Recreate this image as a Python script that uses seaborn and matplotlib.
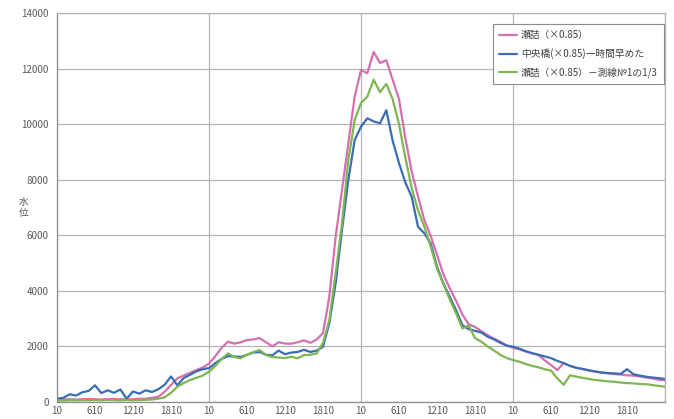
import matplotlib
matplotlib.use("Agg")
import matplotlib.pyplot as plt
from matplotlib.ticker import FixedLocator
import numpy as np
import pandas as pd
import seaborn as sns

# Hourly water-level readings over four days (0:10, 1:10, ... 23:10), plus the
# first reading of the following day at the right edge.
SETSUME = [
    # day 1
    80, 90, 100, 90, 100, 110, 100, 90, 100, 110, 100, 90,
    100, 110, 120, 150, 190, 370, 610, 850, 950, 1050, 1150, 1240,
    # day 2
    1380, 1650, 1950, 2170, 2100, 2150, 2230, 2250, 2300, 2150, 2000, 2150,
    2100, 2100, 2150, 2220, 2130, 2250, 2480, 3790, 5950, 7630, 9310, 10990,
    # day 3
    11950, 11830, 12600, 12200, 12300, 11600, 10900, 9500, 8300, 7400, 6550, 5980,
    5300, 4600, 4100, 3650, 3150, 2800, 2700, 2550, 2400, 2280, 2170, 2030,
    # day 4
    1950, 1900, 1820, 1750, 1700, 1500, 1330, 1150, 1400, 1300, 1230, 1180,
    1130, 1090, 1060, 1030, 1000, 990, 960, 950, 920, 880, 850, 800,
    # next day 0:10
    780,
]

CHUO = [
    # day 1
    120, 150, 280, 230, 350, 400, 600, 320, 420, 330, 450, 120,
    380, 300, 420, 360, 460, 620, 920, 600, 860, 980, 1100, 1180,
    # day 2
    1220, 1400, 1550, 1650, 1640, 1620, 1700, 1780, 1800, 1700, 1680, 1850,
    1720, 1780, 1800, 1880, 1800, 1850, 1990, 2840, 4280, 6190, 7990, 9430,
    # day 3
    9910, 10210, 10100, 10030, 10500, 9400, 8600, 7900, 7390, 6310, 6070, 5710,
    4870, 4270, 3790, 3310, 2770, 2620, 2560, 2500, 2350, 2250, 2130, 2030,
    # day 4
    1990, 1920, 1830, 1760, 1700, 1640, 1580, 1480, 1400, 1300, 1230, 1190,
    1140, 1100, 1060, 1040, 1030, 1010, 1180, 1000, 950, 910, 880, 860,
    # next day 0:10
    830,
]

SETSUME_LINE1 = [
    # day 1
    50, 50, 60, 60, 70, 60, 70, 60, 70, 70, 60, 70,
    60, 70, 80, 90, 120, 170, 330, 550, 680, 790, 870, 950,
    # day 2
    1090, 1300, 1550, 1750, 1620, 1570, 1700, 1800, 1870, 1690, 1620, 1600,
    1580, 1630, 1570, 1690, 1700, 1750, 2120, 2950, 4640, 6430, 8710, 10150,
    # day 3
    10760, 10990, 11600, 11150, 11450, 10900, 10000, 8800, 7700, 6900, 6310, 5600,
    4800, 4250, 3700, 3200, 2650, 2750, 2300, 2170, 2000, 1850, 1700, 1580,
    # day 4
    1510, 1450, 1370, 1300, 1250, 1180, 1130, 850, 620, 960, 910, 870,
    830, 790, 770, 740, 730, 700, 680, 670, 650, 640, 610, 580,
    # next day 0:10
    550,
]

SERIES_NAMES = [
    "瀬詰（×0.85）",
    "中央橋(×0.85)一時間早めた",
    "瀬詰（×0.85）－測線№1の1/3",
]
SERIES_COLORS = ["#d56fae", "#3a6db4", "#7db652"]

# Time-of-day labels shown under every day (hhmm without leading zeros)
DAY_TICK_LABELS = ["10", "610", "1210", "1810"]
N_DAYS = 4
STEPS_PER_DAY = 24

Y_TICKS = [0, 2000, 4000, 6000, 8000, 10000, 12000, 14000]

sns.set_theme(style="white")
plt.rcParams["font.family"] = ["Noto Sans CJK JP", "DejaVu Sans"]

step = np.arange(len(SETSUME))
frames = []
for name, values in zip(SERIES_NAMES, [SETSUME, CHUO, SETSUME_LINE1]):
    frames.append(pd.DataFrame({"step": step, "level": values, "series": name}))
df = pd.concat(frames, ignore_index=True)

fig = plt.figure(figsize=(6.74, 4.19), dpi=100)
ax = fig.add_axes([57 / 674, 1 - 402 / 419, (665 - 57) / 674, (402 - 13) / 419])

sns.lineplot(
    data=df, x="step", y="level", hue="series",
    hue_order=SERIES_NAMES, palette=SERIES_COLORS,
    linewidth=1.6, ax=ax, legend=True,
)

grid_color = "#b4b4b4"
text_color = "#595959"

ax.set_xlim(0, N_DAYS * STEPS_PER_DAY)
ax.set_ylim(0, 14000)
ax.set_yticks(Y_TICKS)
ax.set_yticklabels([str(v) for v in Y_TICKS])

# Labelled ticks every six hours, grid lines only at day boundaries
tick_pos = [d * STEPS_PER_DAY + k * 6 for d in range(N_DAYS) for k in range(len(DAY_TICK_LABELS))]
ax.set_xticks(tick_pos)
ax.set_xticklabels(DAY_TICK_LABELS * N_DAYS)
ax.xaxis.set_minor_locator(FixedLocator([d * STEPS_PER_DAY for d in range(N_DAYS + 1)]))
ax.xaxis.remove_overlapping_locs = False

ax.grid(False)
ax.grid(True, axis="y", which="major", color=grid_color, linewidth=0.9)
ax.grid(True, axis="x", which="minor", color=grid_color, linewidth=0.9)
ax.set_axisbelow(True)

ax.tick_params(axis="both", which="major", labelsize=7, colors=text_color,
               length=3, width=0.8, direction="out", pad=3)
ax.tick_params(axis="x", which="major", length=0)
ax.tick_params(axis="x", which="minor", length=3, width=0.8, color=grid_color)
ax.tick_params(axis="y", which="major", color="#8c8c8c")

for side, sp in ax.spines.items():
    sp.set_color(grid_color if side in ("top", "right") else "#8c8c8c")
    sp.set_linewidth(0.9)

ax.set_xlabel("")
ax.set_ylabel("水\n位", rotation=0, fontsize=7, color=text_color, linespacing=1.2,
              va="center", ha="center")
ax.yaxis.set_label_coords(-0.055, 0.5)

leg = ax.legend(
    loc="upper right", bbox_to_anchor=(1.0, 0.975), borderaxespad=0.15,
    fontsize=7, frameon=True, fancybox=False, edgecolor="#8c8c8c", framealpha=1,
    handlelength=1.9, handletextpad=0.35, borderpad=0.6, labelspacing=0.85,
)
leg.get_frame().set_linewidth(0.8)
for t in leg.get_texts():
    t.set_color("#404040")
for h in leg.get_lines():
    h.set_linewidth(1.6)

fig.savefig("out.png", dpi=100)
